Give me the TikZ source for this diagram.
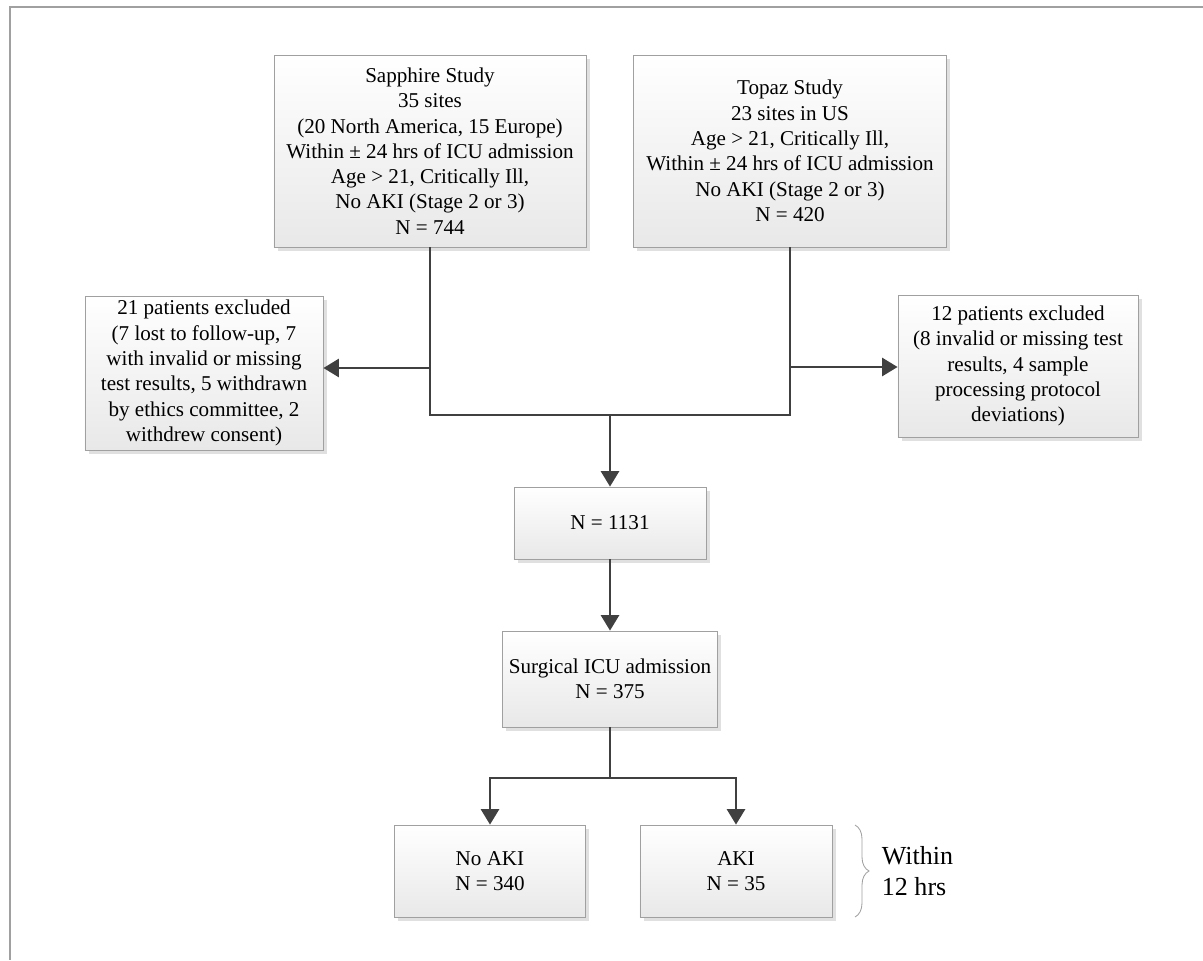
\documentclass[tikz,border=0pt]{standalone}
\usepackage{fontspec}
\setmainfont{Liberation Serif}
\usepackage{tikz}
\usetikzlibrary{arrows.meta,calc,positioning,shadows,decorations.pathreplacing}
\definecolor{linegray}{RGB}{64,64,64}
\definecolor{edgegray}{RGB}{160,160,160}
\tikzset{
  flowbox/.style={draw=edgegray, line width=0.6pt, top color=white, bottom color=black!9,
    drop shadow={shadow xshift=0.09cm, shadow yshift=-0.09cm, fill=black!12, opacity=1},
    align=center, inner sep=2pt, font=\fontsize{15}{18}\selectfont},
  flowline/.style={draw=linegray, line width=1.4pt},
  flowarrow/.style={flowline, -{Triangle[length=11pt, width=13pt]}}
}
\begin{document}
\begin{tikzpicture}[x=0.025cm, y=-0.025cm]
\useasboundingbox (0,0) rectangle (1203,960);
\draw[edgegray, line width=0.8pt] (10,960) -- (10,7) -- (1203,7);
\node[flowbox, minimum width=7.8cm, minimum height=4.8cm] (sapphire) at (430,151)
  {Sapphire Study\\35 sites\\(20 North America, 15 Europe)\\Within ± 24 hrs of ICU admission\\Age > 21, Critically Ill,\\No AKI (Stage 2 or 3)\\N = 744};
\node[flowbox, minimum width=7.825cm, minimum height=4.8cm] (topaz) at (790,151)
  {Topaz Study\\23 sites in US\\Age > 21, Critically Ill,\\Within ± 24 hrs of ICU admission\\No AKI (Stage 2 or 3)\\N = 420};
\node[flowbox, minimum width=5.95cm, minimum height=3.85cm] (exclL) at (204,373)
  {21 patients excluded\\(7 lost to follow-up, 7\\with invalid or missing\\test results, 5 withdrawn\\by ethics committee, 2\\withdrew consent)};
\node[flowbox, minimum width=6cm, minimum height=3.55cm] (exclR) at (1018,366)
  {12 patients excluded\\(8 invalid or missing test\\results, 4 sample\\processing protocol\\deviations)};
\node[flowbox, minimum width=4.8cm, minimum height=1.8cm] (ntotal) at (610,523) {N = 1131};
\node[flowbox, minimum width=5.375cm, minimum height=2.4cm] (surgical) at (610,679)
  {Surgical ICU admission\\N = 375};
\node[flowbox, minimum width=4.775cm, minimum height=2.3cm] (noaki) at (490,871) {No AKI\\N = 340};
\node[flowbox, minimum width=4.8cm, minimum height=2.3cm] (aki) at (736,871) {AKI\\N = 35};
\coordinate (merge) at (610,415);
\coordinate (jleft) at (430,368);
\coordinate (jright) at (790,367);
\coordinate (split) at (610,778);
\draw[flowline] (sapphire.south) |- (merge) -| (topaz.south);
\draw[flowarrow] (jleft) -- (jleft -| exclL.east);
\draw[flowarrow] (jright) -- (jright -| exclR.west);
\draw[flowarrow] (merge) -- (ntotal);
\draw[flowarrow] (ntotal) -- (surgical);
\draw[flowline] (surgical) -- (split);
\foreach \b in {noaki,aki}{ \draw[flowarrow] (split) -| (\b); }
\coordinate (braceTop) at (855,825);
\coordinate (braceBot) at (855,917);
\draw[edgegray, line width=0.6pt, decorate, decoration={brace, amplitude=0.35cm}] (braceTop) -- (braceBot);
\node[anchor=west, align=left, font=\fontsize{18.5}{22}\selectfont] (within) at (877,871) {Within\\12 hrs};
\end{tikzpicture}
\end{document}
